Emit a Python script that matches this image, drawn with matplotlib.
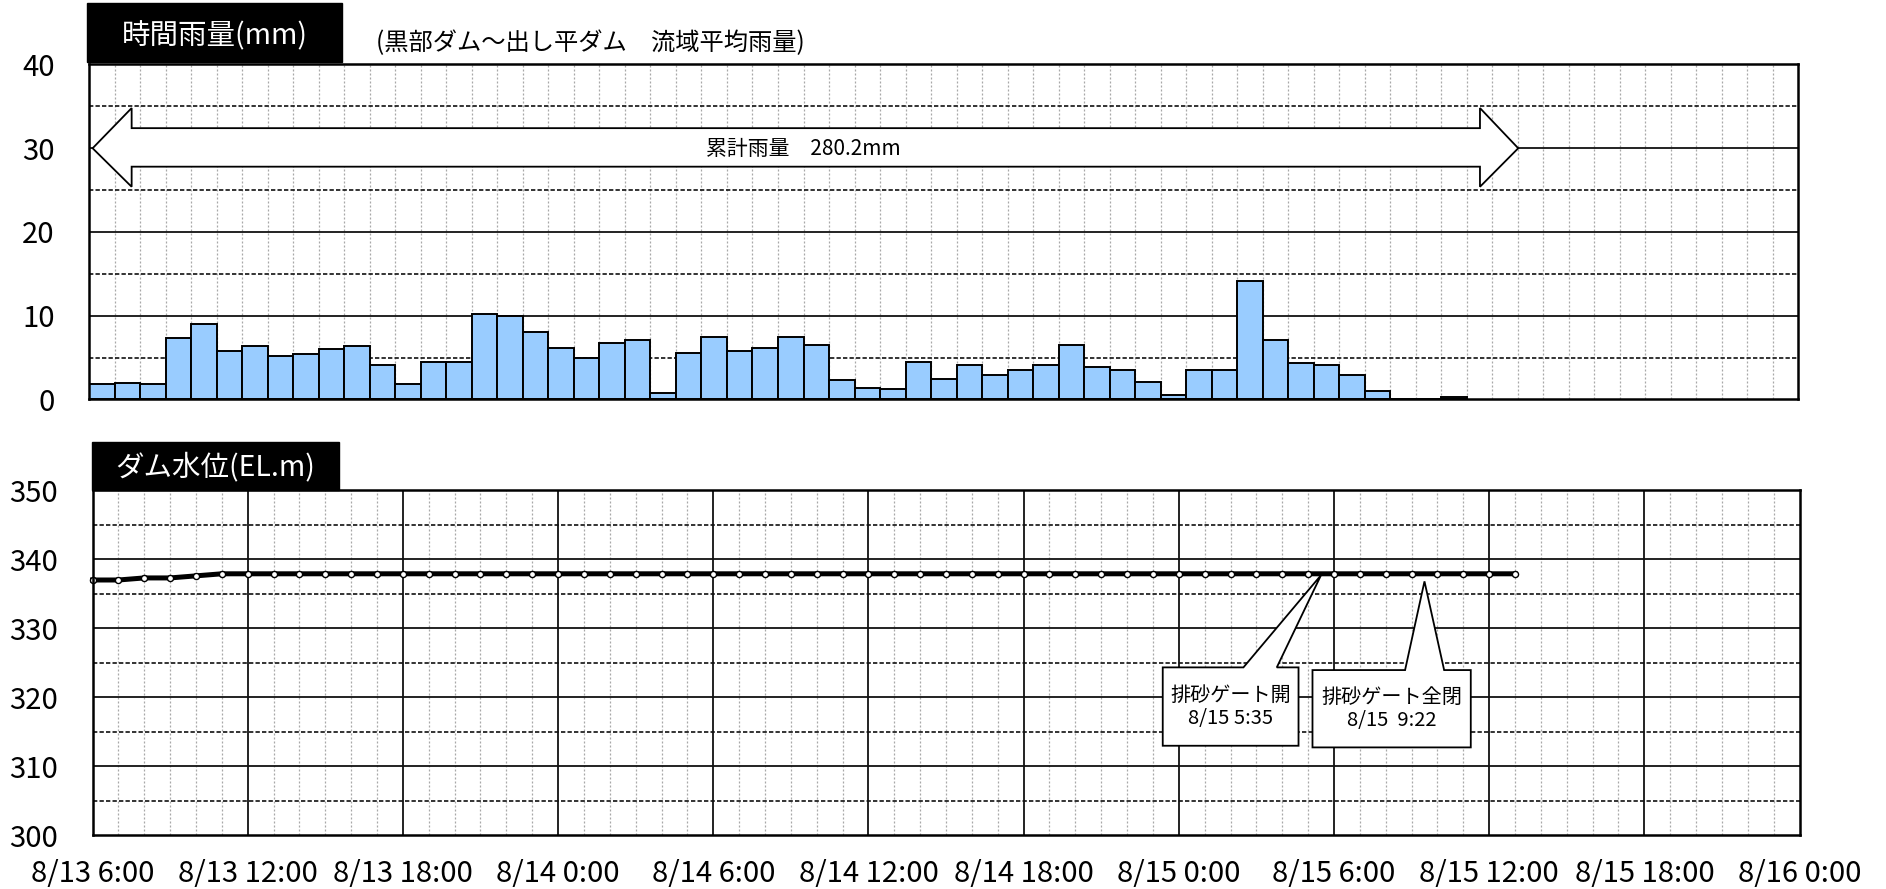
import numpy as np
import matplotlib
matplotlib.use("Agg")
import matplotlib.pyplot as plt
from matplotlib.patches import Polygon, Rectangle

plt.rcParams['font.family'] = ['Noto Sans CJK JP', 'DejaVu Sans']

# ---------------- data ----------------
# hourly rainfall (mm), from 8/13 6:00 onwards (one bar per hour)
rain_mm = [1.8, 2.0, 1.8, 7.3, 9.0, 5.8, 6.4, 5.2, 5.4, 6.0,
           6.4, 4.1, 1.8, 4.5, 4.5, 10.2, 10.0, 8.1, 6.2, 4.9,
           6.7, 7.1, 0.8, 5.6, 7.5, 5.8, 6.2, 7.5, 6.5, 2.3,
           1.4, 1.2, 4.5, 2.5, 4.1, 2.9, 3.5, 4.1, 6.5, 3.9,
           3.5, 2.1, 0.5, 3.5, 3.5, 14.1, 7.1, 4.3, 4.1, 2.9,
           1.0, 0.1, 0.1, 0.3]
n_rain_categories = 67          # hourly categories 8/13 6:00 ... 8/16 0:00

# dam water level (EL.m), hourly from 8/13 6:00 to 8/15 13:00
level_m = [337.0, 337.0, 337.3, 337.3, 337.6, 337.9, 337.9, 337.9, 337.9, 337.9,
           337.9, 337.9, 337.9, 337.9, 337.9, 337.9, 337.9, 337.9, 337.9, 337.9,
           337.9, 337.9, 337.9, 337.9, 337.9, 337.9, 337.9, 337.9, 337.9, 337.9,
           337.9, 337.9, 337.9, 337.9, 337.9, 337.9, 337.9, 337.9, 337.9, 337.9,
           337.9, 337.9, 337.9, 337.9, 337.9, 337.9, 337.9, 337.9, 337.9, 337.9,
           337.9, 337.9, 337.9, 337.9, 337.9, 337.9]
total_hours = 66                # 8/13 6:00 -> 8/16 0:00

time_labels = ['8/13 6:00', '8/13 12:00', '8/13 18:00', '8/14 0:00',
               '8/14 6:00', '8/14 12:00', '8/14 18:00', '8/15 0:00',
               '8/15 6:00', '8/15 12:00', '8/15 18:00', '8/16 0:00']
rain_ticks = [0, 10, 20, 30, 40]
level_ticks = [300, 310, 320, 330, 340, 350]

total_rain_text = '累計雨量　280.2mm'
title_rain = '時間雨量(mm)'
subtitle_rain = '(黒部ダム～出し平ダム　流域平均雨量)'
title_level = 'ダム水位(EL.m)'
gate_open_text = '排砂ゲート開\n8/15 5:35'
gate_close_text = '排砂ゲート全閉\n8/15  9:22'
gate_open_hour = 47.5      # 8/15 5:35 (approx. on axis)
gate_close_hour = 51.5     # 8/15 9:22 (approx. on axis)

# ---------------- figure ----------------
W, H = 1886, 889
fig = plt.figure(figsize=(W / 100, H / 100), dpi=100)
fig.patch.set_facecolor('white')


def fx(px):
    return px / W


def fy(py):
    return 1 - py / H


GRID_SOLID = dict(color='#111111', lw=1.3, zorder=1)
GRID_DASH = dict(color='#111111', lw=1.2, ls=(0, (2.6, 1.3)), zorder=1)
GRID_DOT = dict(color='#a8a8a8', lw=0.9, ls=(0, (1.6, 1.6)), zorder=0.5)
TICK_FS = 21

# ---------- top: hourly rain ----------
ax1 = fig.add_axes([fx(89.3), fy(399.5), fx(1798.3 - 89.3), (399.5 - 64.5) / H])
ax1.set_xlim(0, n_rain_categories)
ax1.set_ylim(0, 40)
for k in range(1, n_rain_categories):
    ax1.axvline(k, **GRID_DOT)
for y in (10, 20, 30):
    ax1.axhline(y, **GRID_SOLID)
for y in (5, 15, 25, 35):
    ax1.axhline(y, **GRID_DASH)

x_rain = np.arange(len(rain_mm)) + 0.5
ax1.bar(x_rain, rain_mm, width=1.0, color='#99CCFF', edgecolor='black',
        linewidth=1.4, zorder=3)

# cumulative arrow
xl_tip, xl_base, xr_base, xr_tip = 0.13, 1.66, 54.52, 56.02
yc, sh_lo, sh_hi, hd_lo, hd_hi = 30.0, 27.8, 32.4, 25.4, 34.8
arrow = Polygon([(xl_tip, yc), (xl_base, hd_hi), (xl_base, sh_hi), (xr_base, sh_hi),
                 (xr_base, hd_hi), (xr_tip, yc), (xr_base, hd_lo), (xr_base, sh_lo),
                 (xl_base, sh_lo), (xl_base, hd_lo)], closed=True,
                facecolor='white', edgecolor='black', lw=1.3, zorder=4)
ax1.add_patch(arrow)
ax1.text(28.0, 29.9, total_rain_text, ha='center', va='center', fontsize=15, zorder=5)

ax1.set_xticks([])
ax1.set_yticks(rain_ticks)
ax1.set_yticklabels([str(t) for t in rain_ticks], fontsize=TICK_FS)
ax1.tick_params(axis='y', length=0, pad=25)
for s in ax1.spines.values():
    s.set_linewidth(1.8)
    s.set_color('black')
    s.set_zorder(6)

# title box top
fig.patches.append(Rectangle((fx(87.3), fy(62.3)), fx(342 - 87.3), 59 / H,
                             transform=fig.transFigure, facecolor='black',
                             edgecolor='black', zorder=10))
fig.text(fx(214.6), fy(36.0), title_rain, color='white', fontsize=20.5,
         ha='center', va='center', zorder=11)
fig.text(fx(376), fy(43), subtitle_rain, color='black', fontsize=17.5,
         ha='left', va='center')

# ---------- bottom: dam level ----------
ax2 = fig.add_axes([fx(92.5), fy(835), fx(1799.5 - 92.5), (835 - 490.4) / H])
ax2.set_xlim(0, total_hours)
ax2.set_ylim(300, 350)
for h in range(1, total_hours):
    if h % 6 == 0:
        ax2.axvline(h, **GRID_SOLID)
    else:
        ax2.axvline(h, **GRID_DOT)
for y in (310, 320, 330, 340):
    ax2.axhline(y, **GRID_SOLID)
for y in (305, 315, 325, 335, 345):
    ax2.axhline(y, **GRID_DASH)

hours = np.arange(len(level_m))
ax2.plot(hours, level_m, color='black', lw=3.6, zorder=4, marker='o',
         markersize=4.4, markerfacecolor='white', markeredgecolor='black',
         markeredgewidth=1.0, clip_on=False)


def callout(ax, box, base, tip, text):
    x0, x1, y0, y1 = box
    b0, b1 = base
    poly = Polygon([(x0, y0), (x1, y0), (x1, y1), (b1, y1), tip, (b0, y1), (x0, y1)],
                   closed=True, facecolor='white', edgecolor='black', lw=1.3, zorder=6)
    ax.add_patch(poly)
    ax.text((x0 + x1) / 2, (y0 + y1) / 2, text, ha='center', va='center',
            fontsize=14.5, linespacing=1.12, zorder=7)


callout(ax2, (41.38, 46.63, 312.95, 324.32), (44.50, 45.79),
        (gate_open_hour, 337.7), gate_open_text)
callout(ax2, (47.17, 53.29, 312.71, 323.93), (50.75, 52.26),
        (gate_close_hour, 336.8), gate_close_text)

ax2.set_xticks(np.arange(0, total_hours + 1, 6))
ax2.set_xticklabels(time_labels, fontsize=TICK_FS)
ax2.set_yticks(level_ticks)
ax2.set_yticklabels([str(t) for t in level_ticks], fontsize=TICK_FS)
ax2.tick_params(axis='y', length=0, pad=25)
ax2.tick_params(axis='x', length=0, pad=17)
for s in ax2.spines.values():
    s.set_linewidth(1.8)
    s.set_color('black')
    s.set_zorder(6)

fig.patches.append(Rectangle((fx(91.8), fy(490.4)), fx(338.7 - 91.8), (490.4 - 441.7) / H,
                             transform=fig.transFigure, facecolor='black',
                             edgecolor='black', zorder=10))
fig.text(fx(215), fy(467), title_level, color='white', fontsize=20.5,
         ha='center', va='center', zorder=11)

fig.savefig('out.png', dpi=100, facecolor='white')
